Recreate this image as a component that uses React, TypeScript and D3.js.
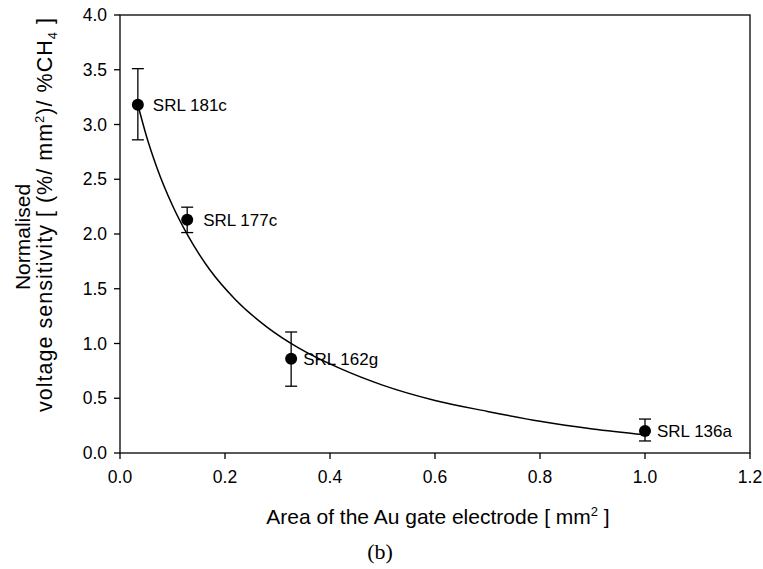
import React from "react";
import * as d3 from "d3";

// ---- data ----
const samples = ["SRL 181c", "SRL 177c", "SRL 162g", "SRL 136a"];
const area = [0.034, 0.128, 0.326, 1.0];
const sensitivity = [3.18, 2.13, 0.86, 0.2];
const errUpper = [3.51, 2.245, 1.105, 0.31];
const errLower = [2.86, 2.013, 0.61, 0.11];

// fitted curve
const fitX = [0.034, 0.05, 0.07, 0.1, 0.13, 0.17, 0.22, 0.28, 0.34, 0.42, 0.5, 0.6, 0.7, 0.8, 0.9, 1.0];
const fitY = [3.18, 2.9, 2.61, 2.26, 1.98, 1.68, 1.4, 1.15, 0.96, 0.77, 0.62, 0.48, 0.38, 0.29, 0.22, 0.167];

const xTicks = [0, 0.2, 0.4, 0.6, 0.8, 1.0, 1.2];
const yTicks = [0, 0.5, 1.0, 1.5, 2.0, 2.5, 3.0, 3.5, 4.0];

const W = 763;
const H = 569;
const left = 120;
const right = 750;
const top = 15;
const bottom = 453;

const labelDx = [15, 16, 12, 12];

const SANS = "'Liberation Sans', Arial, Helvetica, sans-serif";

export default function App() {
  const x = d3.scaleLinear().domain([0, 1.2]).range([left, right]);
  const y = d3.scaleLinear().domain([0, 4]).range([bottom, top]);

  const line = d3
    .line<number>()
    .x((_, i) => x(fitX[i]))
    .y((d) => y(d))
    .curve(d3.curveMonotoneX);

  const tick = 6;

  return (
    <svg
      width={W}
      height={H}
      style={{ position: "absolute", left: 0, top: 0, background: "#fff" }}
      fontFamily={SANS}
    >
      <rect x={0} y={0} width={W} height={H} fill="#fff" />
      {/* frame */}
      <rect x={left} y={top} width={right - left} height={bottom - top} fill="none" stroke="#000" strokeWidth={1.3} />

      {/* x ticks */}
      {xTicks.map((t) => (
        <g key={"x" + t}>
          <line x1={x(t)} x2={x(t)} y1={bottom} y2={bottom + tick} stroke="#000" strokeWidth={1.3} />
          <text x={x(t)} y={bottom + 30} fontSize={17.5} textAnchor="middle" fill="#000">
            {d3.format(".1f")(t)}
          </text>
        </g>
      ))}
      {/* y ticks */}
      {yTicks.map((t) => (
        <g key={"y" + t}>
          <line x1={left - tick} x2={left} y1={y(t)} y2={y(t)} stroke="#000" strokeWidth={1.3} />
          <text x={left - 13} y={y(t) + 6} fontSize={17.5} textAnchor="end" fill="#000">
            {d3.format(".1f")(t)}
          </text>
        </g>
      ))}

      {/* fit curve */}
      <path d={line(fitY) || ""} fill="none" stroke="#000" strokeWidth={1.5} />

      {/* error bars + points */}
      {area.map((a, i) => {
        const cx = x(a);
        return (
          <g key={samples[i]}>
            <line x1={cx} x2={cx} y1={y(errUpper[i])} y2={y(errLower[i])} stroke="#000" strokeWidth={1.3} />
            <line x1={cx - 6} x2={cx + 6} y1={y(errUpper[i])} y2={y(errUpper[i])} stroke="#000" strokeWidth={1.3} />
            <line x1={cx - 6} x2={cx + 6} y1={y(errLower[i])} y2={y(errLower[i])} stroke="#000" strokeWidth={1.3} />
            <circle cx={cx} cy={y(sensitivity[i])} r={6} fill="#000" />
            <text x={cx + labelDx[i]} y={y(sensitivity[i]) + 6} fontSize={17} fill="#000">
              {samples[i]}
            </text>
          </g>
        );
      })}

      {/* x title */}
      <text x={438} y={524} fontSize={21} textAnchor="middle" fill="#000">
        Area of the Au gate electrode [ mm
        <tspan dy={-8} fontSize={13}>2</tspan>
        <tspan dy={8}> ]</tspan>
      </text>

      {/* y title */}
      <text transform="translate(30,237) rotate(-90)" fontSize={21} textAnchor="middle" fill="#000">
        Normalised
      </text>
      <text
        transform="translate(52,215) rotate(-90)"
        fontSize={21.5}
        textAnchor="middle"
        textLength={394}
        lengthAdjust="spacing"
        fill="#000"
      >
        voltage sensitivity [ (%/ mm
        <tspan dy={-8} fontSize={13}>2</tspan>
        <tspan dy={8}>)/ %CH</tspan>
        <tspan dy={5} fontSize={13}>4</tspan>
        <tspan dy={-5}> ]</tspan>
      </text>

      {/* panel label */}
      <text x={380} y={559} fontSize={22} textAnchor="middle" fontFamily="'Liberation Serif', 'Times New Roman', serif" fill="#000">
        (b)
      </text>
    </svg>
  );
}
